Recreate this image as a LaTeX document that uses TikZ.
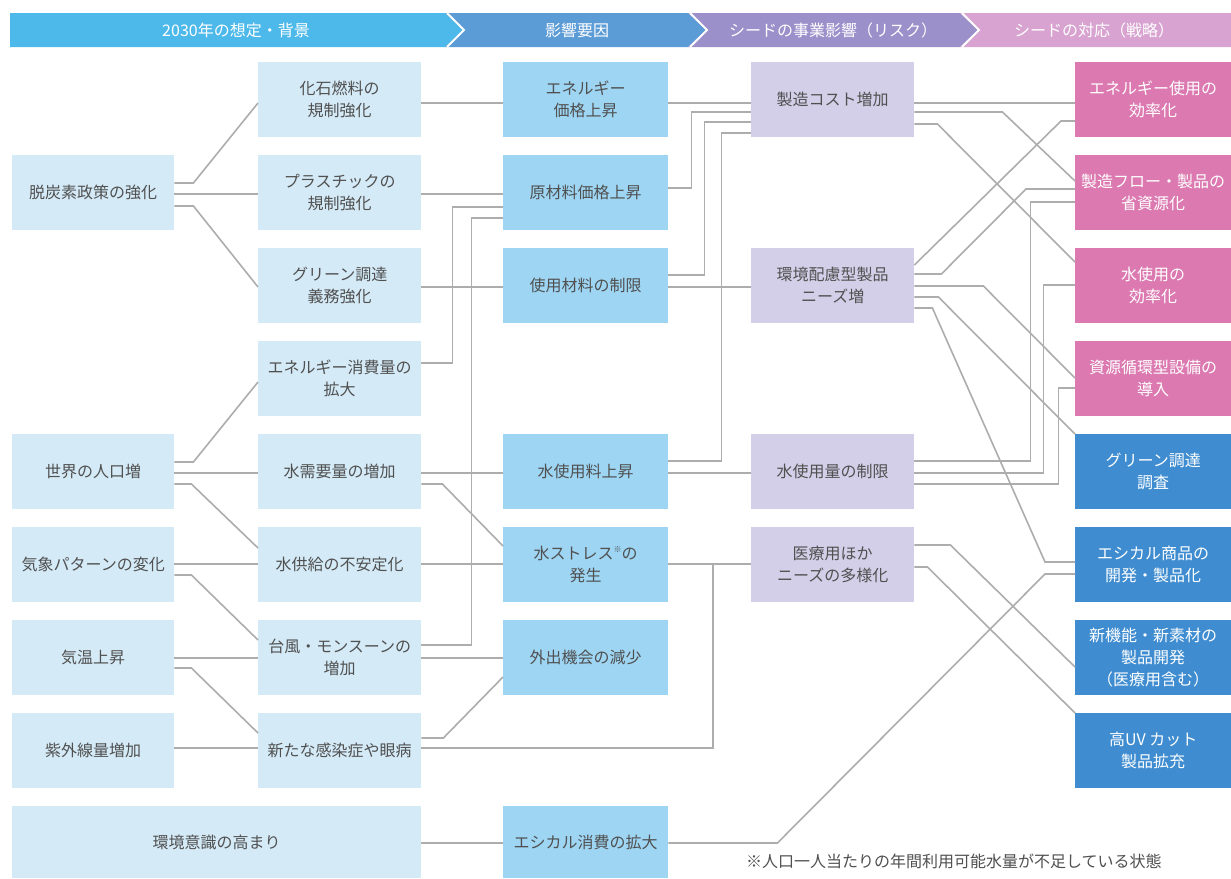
\documentclass[tikz,border=0pt]{standalone}
\usepackage{fontspec}
\setmainfont{Noto Sans CJK JP}
\usetikzlibrary{calc}
\definecolor{lightblue}{HTML}{D4EAF7}
\definecolor{midblue}{HTML}{9DD5F3}
\definecolor{lavender}{HTML}{D4CFE8}
\definecolor{pinkbox}{HTML}{DB79B0}
\definecolor{deepblue}{HTML}{3F8DD0}
\definecolor{linegray}{HTML}{ADADAD}
\definecolor{txtgray}{HTML}{505050}
\definecolor{hdone}{HTML}{4DB9EA}
\definecolor{hdtwo}{HTML}{5B9BD6}
\definecolor{hdthree}{HTML}{9C90CB}
\definecolor{hdfour}{HTML}{D8A3D0}
\begin{document}
\begin{tikzpicture}[x=1pt,y=-1pt,
  every node/.style={inner sep=0pt},
  boxbase/.style={rectangle, anchor=north west, minimum height=75pt, align=center,
    font=\fontsize{16}{22}\selectfont, text=txtgray},
  bgbox/.style={boxbase, fill=lightblue, minimum width=163pt},
  fgbox/.style={boxbase, fill=midblue, minimum width=165pt},
  rkbox/.style={boxbase, fill=lavender, minimum width=163pt},
  pkbox/.style={boxbase, fill=pinkbox, minimum width=156pt, text=white},
  dbbox/.style={boxbase, fill=deepblue, minimum width=156pt, text=white},
  hdseg/.style={draw=white, line width=2pt},
  hdtext/.style={text=white, font=\fontsize{16}{20}\selectfont},
  conn/.style={draw=linegray, line width=1.6pt}]
\useasboundingbox (0,0) rectangle (1231,878);
\fill[white] (0,0) rectangle (1231,878);

% header
\fill[fill=hdone] (10,13) -- (445,13) -- (463,30) -- (445,47) -- (10,47) -- cycle;
\fill[fill=hdtwo] (445,13) -- (688,13) -- (706,30) -- (688,47) -- (445,47) -- (463,30) -- cycle;
\fill[fill=hdthree] (688,13) -- (960,13) -- (978,30) -- (960,47) -- (688,47) -- (706,30) -- cycle;
\fill[fill=hdfour] (960,13) -- (1231,13) -- (1231,47) -- (960,47) -- (978,30) -- cycle;
\draw[hdseg] (447,13) -- (464,30) -- (447,47);
\draw[hdseg] (690,13) -- (707,30) -- (690,47);
\draw[hdseg] (962,13) -- (979,30) -- (962,47);
\node[hdtext] (h1) at (236,30) {2030年の想定・背景};
\node[hdtext] (h2) at (577,30) {影響要因};
\node[hdtext] (h3) at (833,30) {シードの事業影響（リスク）};
\node[hdtext] (h4) at (1094,30) {シードの対応（戦略）};

% column 1
\node[bgbox, minimum width=162pt] (a1) at (12,155) {脱炭素政策の強化};
\node[bgbox, minimum width=162pt] (a2) at (12,434) {世界の人口増};
\node[bgbox, minimum width=162pt] (a3) at (12,527) {気象パターンの変化};
\node[bgbox, minimum width=162pt] (a4) at (12,620) {気温上昇};
\node[bgbox, minimum width=162pt] (a5) at (12,713) {紫外線量増加};
\node[bgbox, minimum width=409pt, minimum height=72pt] (a6) at (12,806) {環境意識の高まり};

% column 2
\node[bgbox] (b1) at (258,62) {化石燃料の\\規制強化};
\node[bgbox] (b2) at (258,155) {プラスチックの\\規制強化};
\node[bgbox] (b3) at (258,248) {グリーン調達\\義務強化};
\node[bgbox] (b4) at (258,341) {エネルギー消費量の\\拡大};
\node[bgbox] (b5) at (258,434) {水需要量の増加};
\node[bgbox] (b6) at (258,527) {水供給の不安定化};
\node[bgbox] (b7) at (258,620) {台風・モンスーンの\\増加};
\node[bgbox] (b8) at (258,713) {新たな感染症や眼病};

% column 3
\node[fgbox] (c1) at (503,62) {エネルギー\\価格上昇};
\node[fgbox] (c2) at (503,155) {原材料価格上昇};
\node[fgbox] (c3) at (503,248) {使用材料の制限};
\node[fgbox] (c5) at (503,434) {水使用料上昇};
\node[fgbox] (c6) at (503,527) {水ストレス\raisebox{0.45em}{\fontsize{8}{8}\selectfont ※}の\\発生};
\node[fgbox] (c7) at (503,620) {外出機会の減少};
\node[fgbox, minimum height=72pt] (c9) at (503,806) {エシカル消費の拡大};

% column 4
\node[rkbox] (d1) at (751,62) {製造コスト増加};
\node[rkbox] (d3) at (751,248) {環境配慮型製品\\ニーズ増};
\node[rkbox] (d5) at (751,434) {水使用量の制限};
\node[rkbox] (d6) at (751,527) {医療用ほか\\ニーズの多様化};

% column 5
\node[pkbox] (e1) at (1075,62) {エネルギー使用の\\効率化};
\node[pkbox] (e2) at (1075,155) {製造フロー・製品の\\省資源化};
\node[pkbox] (e3) at (1075,248) {水使用の\\効率化};
\node[pkbox] (e4) at (1075,341) {資源循環型設備の\\導入};
\node[dbbox] (e5) at (1075,434) {グリーン調達\\調査};
\node[dbbox] (e6) at (1075,527) {エシカル商品の\\開発・製品化};
\node[dbbox] (e7) at (1075,620) {新機能・新素材の\\製品開発\\（医療用含む）};
\node[dbbox] (e8) at (1075,713) {高UV カット\\製品拡充};

% footnote
\node[anchor=west, text=txtgray, font=\fontsize{16}{20}\selectfont] (fn) at (746,861) {※人口一人当たりの年間利用可能水量が不足している状態};

% connectors col1 -> col2
\draw[conn] (a1.east |- 0,183) -- ++(19,0) -- (b1.west |- 0,103);
\draw[conn] (a1.east |- 0,194) -- (b2.west |- 0,194);
\draw[conn] (a1.east |- 0,206) -- ++(19,0) -- (b3.west |- 0,287);
\draw[conn] (a2.east |- 0,462) -- ++(19,0) -- (b4.west |- 0,382);
\draw[conn] (a2.east |- 0,473) -- (b5.west |- 0,473);
\draw[conn] (a2.east |- 0,484) -- ++(17,0) -- (b6.west |- 0,548);
\draw[conn] (a3.east |- 0,564) -- (b6.west |- 0,564);
\draw[conn] (a3.east |- 0,575) -- ++(17,0) -- (b7.west |- 0,640);
\draw[conn] (a4.east |- 0,658) -- (b7.west |- 0,658);
\draw[conn] (a4.east |- 0,668) -- ++(17,0) -- (b8.west |- 0,733);
\draw[conn] (a5.east |- 0,748) -- (b8.west |- 0,748);
\draw[conn] (a6.east |- 0,843) -- (c9.west |- 0,843);

% col2 -> col3
\draw[conn] (b1.east |- 0,103) -- (c1.west |- 0,103);
\draw[conn] (b2.east |- 0,194) -- (c2.west |- 0,194);
\draw[conn] (b4.east |- 0,363) -- ++(31,0) |- (c2.west |- 0,207);
\draw[conn] (b7.east |- 0,645) -- ++(50,0) |- (c2.west |- 0,218);
\draw[conn] (b3.east |- 0,287) -- (c3.west |- 0,287);
\draw[conn] (b5.east |- 0,473) -- (c5.west |- 0,473);
\draw[conn] (b5.east |- 0,484) -- ++(21,0) -- (c6.west |- 0,546);
\draw[conn] (b6.east |- 0,564) -- (c6.west |- 0,564);
\draw[conn] (b7.east |- 0,658) -- (c7.west |- 0,658);
\draw[conn] (b8.east |- 0,738) -- ++(22,0) -- (c7.west |- 0,677);
\draw[conn] (b8.east |- 0,748) -- (713,748) -- (713,564) -- (d6.west |- 0,564);
\draw[conn] (c6.east |- 0,564) -- (d6.west |- 0,564);

% col3 -> col4
\draw[conn] (c1.east |- 0,103) -- (d1.west |- 0,103);
\draw[conn] (c2.east |- 0,188) -- ++(23,0) |- (d1.west |- 0,112);
\draw[conn] (c3.east |- 0,275) -- ++(36,0) |- (d1.west |- 0,122);
\draw[conn] (c3.east |- 0,287) -- (d3.west |- 0,287);
\draw[conn] (c5.east |- 0,461) -- ++(53,0) |- (d1.west |- 0,133);
\draw[conn] (c5.east |- 0,473) -- (d5.west |- 0,473);
\draw[conn] (c9.east |- 0,843) -- ++(109,0) -- (1045,574) -- (e6.west |- 0,574);

% col4 -> col5
\draw[conn] (d1.east |- 0,103) -- (e1.west |- 0,103);
\draw[conn] (d1.east |- 0,112) -- ++(88,0) -- (e2.west |- 0,181);
\draw[conn] (d1.east |- 0,124) -- ++(23,0) -- (e3.west |- 0,262);
\draw[conn] (d3.east |- 0,265) -- (1061,121) -- (e1.west |- 0,121);
\draw[conn] (d3.east |- 0,274) -- ++(27,0) -- (1026,189) -- (e2.west |- 0,189);
\draw[conn] (d3.east |- 0,286) -- ++(69,0) -- (e4.west |- 0,378);
\draw[conn] (d3.east |- 0,297) -- ++(24,0) -- (e5.north west);
\draw[conn] (d3.east |- 0,308) -- ++(18,0) -- (1045,562) -- (e6.west |- 0,562);
\draw[conn] (d5.east |- 0,461) -- ++(116,0) |- (e2.west |- 0,202);
\draw[conn] (d5.east |- 0,473) -- ++(129,0) |- (e3.west |- 0,285);
\draw[conn] (d5.east |- 0,484) -- ++(144,0) |- (e4.west |- 0,388);
\draw[conn] (d6.east |- 0,545) -- ++(36,0) -- (e7.west |- 0,667);
\draw[conn] (d6.east |- 0,567) -- ++(13,0) -- (e8.north west);
\end{tikzpicture}
\end{document}
